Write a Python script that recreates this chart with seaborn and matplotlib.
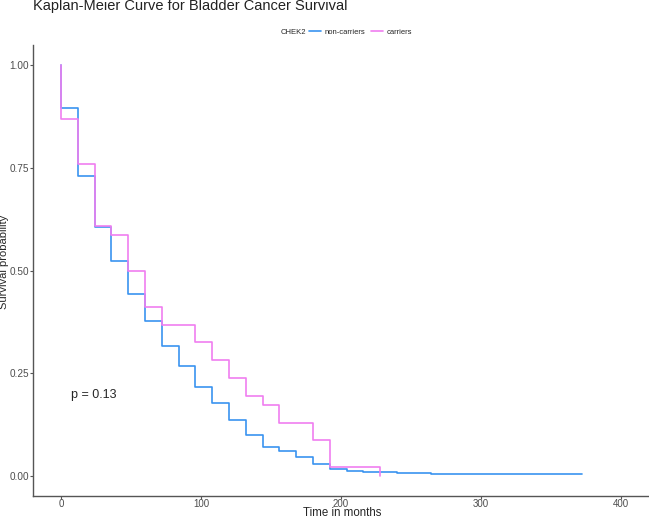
import pandas as pd
import numpy as np
import matplotlib
matplotlib.use("Agg")
import matplotlib.pyplot as plt
import seaborn as sns

# Kaplan-Meier step values
time_non = [0, 0, 12, 24, 36, 48, 60, 72, 84, 96, 108, 120, 132, 144, 156, 168,
            180, 192, 204, 216, 240, 264, 276, 372]
surv_non = [1.0, 0.897, 0.730, 0.605, 0.523, 0.442, 0.377, 0.315, 0.266, 0.216,
            0.177, 0.136, 0.100, 0.069, 0.059, 0.045, 0.028, 0.015, 0.010, 0.008,
            0.007, 0.005, 0.003, 0.003]
time_car = [0, 0, 12, 24, 36, 48, 60, 72, 96, 108, 120, 132, 144, 156, 180, 192,
            228, 228]
surv_car = [1.0, 0.870, 0.760, 0.608, 0.587, 0.499, 0.412, 0.367, 0.325, 0.282,
            0.238, 0.194, 0.173, 0.128, 0.086, 0.020, 0.020, 0.0]
groups = ["non-carriers", "carriers"]
colors = ["#3a93f0", "#f07ef0"]
p_text = "p = 0.13"

df = pd.concat([
    pd.DataFrame({"time": time_non, "surv": surv_non, "CHEK2": groups[0]}),
    pd.DataFrame({"time": time_car, "surv": surv_car, "CHEK2": groups[1]}),
], ignore_index=True)

sns.set_style("ticks")
plt.rcParams["font.family"] = ["Liberation Sans", "DejaVu Sans"]

fig = plt.figure(figsize=(6.49, 5.2), dpi=100)
ax = fig.add_axes([0.0508, 0.046, 0.9492, 0.8675])
sns.lineplot(data=df, x="time", y="surv", hue="CHEK2", hue_order=groups,
             palette=colors, estimator=None, sort=False, drawstyle="steps-post",
             linewidth=1.2, ax=ax, legend=False)

ax.set_facecolor("white")
fig.patch.set_facecolor("white")
ax.set_xlim(-20, 420)
ax.set_ylim(-0.05, 1.05)
ax.set_xticks([0, 100, 200, 300, 400])
ax.set_yticks([0, 0.25, 0.5, 0.75, 1.0])
ax.set_yticklabels(["0.00", "0.25", "0.50", "0.75", "1.00"])
ax.grid(False)
for s in ["top", "right"]:
    ax.spines[s].set_visible(False)
for s in ["left", "bottom"]:
    ax.spines[s].set_color("#555555")
    ax.spines[s].set_linewidth(1.0)
ax.tick_params(axis="both", which="both", direction="out", length=2, width=0.8,
               color="#555555", labelcolor="#4d4d4d", labelsize=7.2, pad=1,
               top=False, right=False)
ax.tick_params(axis="x", pad=0, labelsize=7)
ax.set_xlabel("")
ax.set_ylabel("")
fig.text(342 / 649, 0.5 / 520, "Time in months", fontsize=8.3,
         ha="center", va="bottom")
fig.text(4.5 / 649, 1 - 262 / 520, "Survival probability", fontsize=8,
         ha="center", va="center", rotation=90)

ax.text(7, 0.196, p_text, fontsize=9, va="center", ha="left")

fig.text(0.051, 0.988, "Kaplan-Meier Curve for Bladder Cancer Survival",
         fontsize=10.5, va="center", ha="left", color="#222222")

# legend on top
fig.text(281 / 649, 1 - 32 / 520, "CHEK2", fontsize=5.5, va="center", ha="left")
handles = [plt.Line2D([], [], color=c, lw=1.2) for c in colors]
fig.legend(handles, groups, loc="center left", bbox_to_anchor=(309 / 649, 1 - 32 / 520),
           ncol=2, frameon=False, fontsize=5.5, handlelength=1.6,
           handletextpad=0.4, columnspacing=0.8, borderpad=0, borderaxespad=0)

fig.savefig("out.png", dpi=100, facecolor="white")
